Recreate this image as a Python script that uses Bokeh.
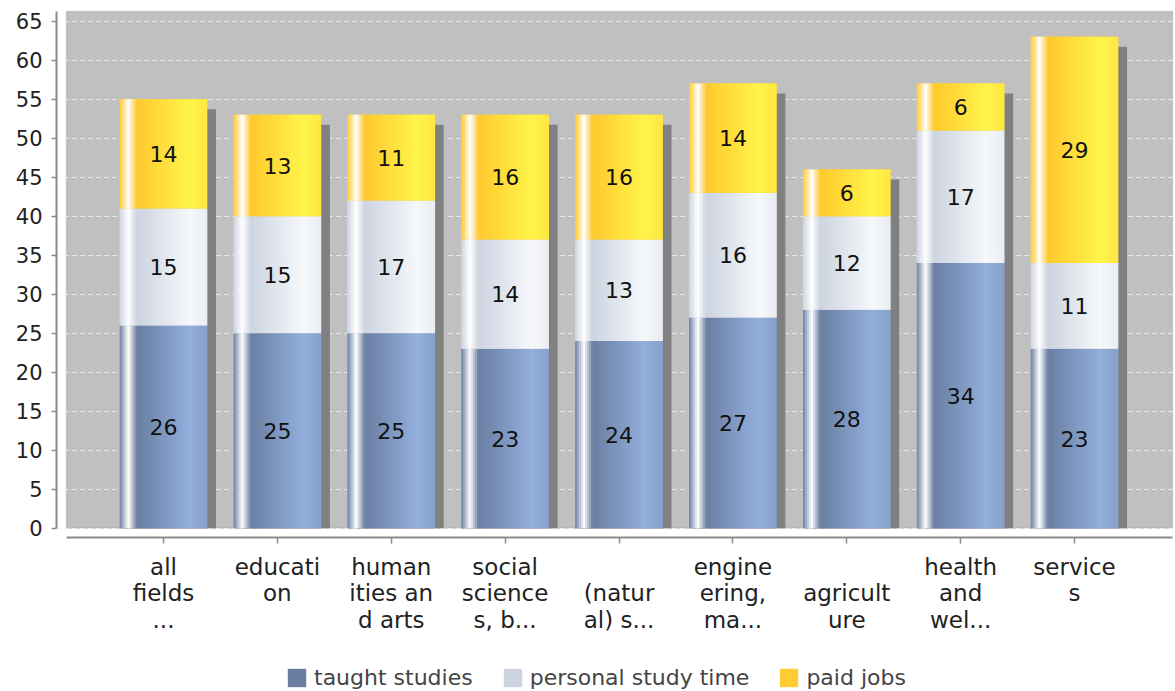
import numpy as np
from bokeh.plotting import figure
from bokeh.models import (ColumnDataSource, Range1d, FixedTicker, BoxAnnotation,
                          Legend, LegendItem)
from bokeh.core.properties import value
from bokeh.embed import file_html
from bokeh.resources import INLINE

# ---------------- data ----------------
categories = ["all\nfields\n...", "educati\non", "human\nities an\nd arts",
              "social\nscience\ns, b...", "\n(natur\nal) s...", "engine\nering,\nma...",
              "\nagricult\nure", "health\nand\nwel...", "service\ns"]
taught = [26, 25, 25, 23, 24, 27, 28, 34, 23]
personal = [15, 15, 17, 14, 13, 16, 12, 17, 11]
paid = [14, 13, 11, 16, 16, 14, 6, 6, 29]
series_names = ["taught studies", "personal study time", "paid jobs"]
y_ticks = list(range(0, 70, 5))

# ---------------- style ----------------
FONT = "DejaVu Sans"
base_colors = ["#6a7fa2", "#cdd4e0", "#ffc92e"]
bright_colors = ["#93afdd", "#f6f8fb", "#fff44a"]
legend_colors = ["#6a7fa0", "#cdd4e0", "#ffcc33"]

PXX = 113.875   # px per category
PXY = 7.8       # px per y unit
Y0 = 527.7      # page y of value 0
BAR_W = 0.764
N_STRIPS = 44

x_start, x_end = -(163 - 56) / PXX, (1174 - 163) / PXX
y_start, y_end = -(691 - Y0) / PXY, (Y0 - 9) / PXY
gray_left, gray_right = -(163 - 66) / PXX, (1172 - 163) / PXX
gray_top = (Y0 - 11) / PXY
xaxis_at = -(537 - Y0) / PXY


def hex2rgb(h):
    h = h.lstrip("#")
    return np.array([int(h[i:i + 2], 16) for i in (0, 2, 4)], dtype=float)


def rgb2hex(c):
    c = np.clip(np.round(c), 0, 255).astype(int)
    return "#%02x%02x%02x" % tuple(c)


def grad(c0h, c1h, t):
    c0, c1, w = hex2rgb(c0h), hex2rgb(c1h), np.array([255.0, 255.0, 255.0])
    if t < 0.1:
        f = t / 0.1
        c = c0 + (w - c0) * f
    elif t < 0.2:
        f = (t - 0.1) / 0.1
        c = w + (c0 - w) * f
    elif t < 0.8:
        f = (t - 0.2) / 0.6
        c = c0 + (c1 - c0) * f
    else:
        f = (t - 0.8) / 0.2
        c = c1 + (c0 - c1) * f * 0.3
    return rgb2hex(c)


xs = np.arange(len(categories))
t_arr, p_arr, j_arr = np.array(taught), np.array(personal), np.array(paid)
bottoms = [np.zeros(len(xs)), t_arr, t_arr + p_arr]
tops = [t_arr, t_arr + p_arr, t_arr + p_arr + j_arr]
vals = [t_arr, p_arr, j_arr]
totals = t_arr + p_arr + j_arr

p = figure(frame_width=1118, frame_height=682, output_backend="svg", toolbar_location=None,
           x_range=Range1d(x_start, x_end), y_range=Range1d(y_start, y_end),
           min_border_left=56, min_border_right=1, min_border_top=9,
           min_border_bottom=0)
p.outline_line_color = None
p.background_fill_color = "white"
p.border_fill_color = "white"

# plot background
bg = BoxAnnotation(left=gray_left, right=gray_right, bottom=0, top=gray_top,
                   fill_color="#c0c0c0", fill_alpha=1.0,
                   line_color="#8c8c8c", line_width=1.5, level="image")
p.add_layout(bg)

# shadows
dx, dy = 9 / PXX, 10 / PXY
p.vbar(x=xs + dx, top=totals - dy, bottom=0, width=BAR_W,
       fill_color="#808080", line_color=None)

# flat base bars (also used for the legend), then gradient strips on top
legend_renderers = []
for s in range(3):
    r = p.vbar(x=xs, top=tops[s], bottom=bottoms[s], width=BAR_W,
               fill_color=legend_colors[s], line_color=None)
    legend_renderers.append(r)

for s in range(3):
    sx, stop, sbot, scol = [], [], [], []
    for i in range(len(xs)):
        for k in range(N_STRIPS):
            t = (k + 0.5) / N_STRIPS
            sx.append(xs[i] - BAR_W / 2 + t * BAR_W)
            stop.append(tops[s][i])
            sbot.append(bottoms[s][i])
            scol.append(grad(base_colors[s], bright_colors[s], t))
    src = ColumnDataSource(dict(x=sx, top=stop, bottom=sbot, color=scol))
    p.vbar(x="x", top="top", bottom="bottom", width=BAR_W / N_STRIPS * 1.35,
           fill_color="color", line_color=None, source=src)

# value labels
for s in range(3):
    p.text(x=xs, y=(bottoms[s] + tops[s]) / 2, text=[str(v) for v in vals[s]],
           text_align="center", text_baseline="middle",
           text_font=value(FONT), text_font_size="22px", text_color="#111111")

# axes
for ax in (p.xaxis[0], p.yaxis[0]):
    ax.axis_line_color = "#8a8a8a"
    ax.axis_line_width = 2
    ax.major_tick_line_color = "#8a8a8a"
    ax.major_tick_line_width = 1.5
    ax.major_tick_in = 0
    ax.minor_tick_in = 0
    ax.minor_tick_out = 0
    ax.major_label_text_font = FONT
    ax.major_label_text_color = "#222222"

p.yaxis.ticker = FixedTicker(ticks=y_ticks)
p.yaxis.bounds = (0, gray_top)
p.yaxis.major_tick_out = 5
p.yaxis.major_label_standoff = 9
p.yaxis.major_label_text_font_size = "21px"

p.xaxis.fixed_location = xaxis_at
p.xaxis.ticker = FixedTicker(ticks=list(range(len(categories))))
p.xaxis.major_label_overrides = {i: c for i, c in enumerate(categories)}
p.xaxis.bounds = (gray_left, gray_right)
p.xaxis.major_tick_out = 6
p.xaxis.major_label_standoff = 10
p.xaxis.major_label_text_font_size = "23px"
p.xaxis.major_label_text_line_height = 1.02

p.xgrid.visible = False
p.ygrid.ticker = FixedTicker(ticks=y_ticks)
p.ygrid.grid_line_color = "#eeeeee"
p.ygrid.grid_line_dash = "4 4"
p.ygrid.grid_line_width = 1

# legend
items = [LegendItem(label=series_names[s], renderers=[legend_renderers[s]])
         for s in range(3)]
legend = Legend(items=items, orientation="horizontal", location=(228, 0),
                glyph_width=23, glyph_height=23, label_standoff=6, spacing=28,
                padding=1, margin=0, border_line_alpha=0, background_fill_alpha=0,
                label_text_font=FONT, label_text_font_size="22px",
                label_text_color="#444444")
p.add_layout(legend)

open("out.html", "w").write(file_html(p, INLINE))
